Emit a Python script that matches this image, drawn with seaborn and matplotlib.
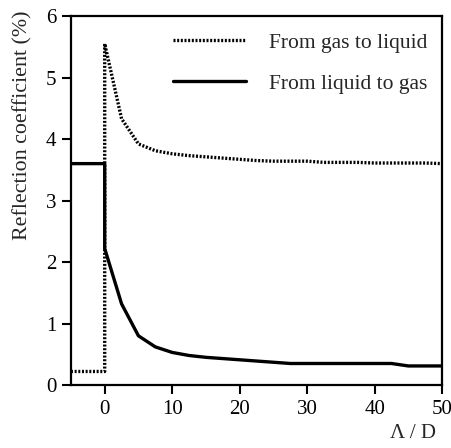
import numpy as np
import pandas as pd
import matplotlib
matplotlib.use("Agg")
import matplotlib.pyplot as plt
import seaborn as sns

sns.set_theme(style="ticks")
plt.rcParams['font.family'] = ['Liberation Serif', 'DejaVu Serif']

x_vals = [-5, 0, 0, 2.5, 5, 7.5, 10, 12.5, 15, 17.5, 20, 22.5, 25, 27.5, 30,
          32.5, 35, 37.5, 40, 42.5, 45, 47.5, 50]
gas_to_liquid = [0.22, 0.22, 5.55, 4.33, 3.92, 3.81, 3.76, 3.73, 3.71, 3.69, 3.67,
                 3.65, 3.64, 3.64, 3.64, 3.62, 3.62, 3.62, 3.61, 3.61, 3.61, 3.61, 3.60]
liquid_to_gas = [3.6, 3.6, 2.22, 1.32, 0.80, 0.62, 0.53, 0.48, 0.45, 0.43, 0.41,
                 0.39, 0.37, 0.35, 0.35, 0.35, 0.35, 0.35, 0.35, 0.35, 0.31, 0.31, 0.31]
series_names = ["From gas to liquid", "From liquid to gas"]

df = pd.concat([
    pd.DataFrame({"x": x_vals, "y": gas_to_liquid, "series": series_names[0]}),
    pd.DataFrame({"x": x_vals, "y": liquid_to_gas, "series": series_names[1]}),
])

fig = plt.figure(figsize=(4.52, 4.48), dpi=100)
ax = fig.add_axes([0.157, 0.1406, 0.821, 0.8236])

styles = {series_names[0]: dict(ls=(0, (0.6, 0.5)), lw=2.4),
          series_names[1]: dict(ls='-', lw=2.4)}
for name in series_names:
    sub = df[df.series == name]
    sns.lineplot(data=sub, x="x", y="y", sort=False, estimator=None, ax=ax,
                 color="black", linestyle=styles[name]['ls'], linewidth=styles[name]['lw'],
                 label=name)

ax.set_xlim(-5, 50)
ax.set_ylim(0, 6)
ax.set_xticks([0, 10, 20, 30, 40, 50])
ax.set_yticks([0, 1, 2, 3, 4, 5, 6])
for s in ax.spines.values():
    s.set_linewidth(1.6)
    s.set_color("black")
ax.tick_params(direction='out', length=6.5, width=1.5, labelsize=15, colors='black', pad=4)
ax.set_xlabel("Λ / D", fontsize=15)
ax.xaxis.set_label_coords(0.985, -0.107)
ax.xaxis.label.set_ha('right')
ax.set_ylabel("Reflection coefficient (%)", fontsize=15.8)
ax.yaxis.set_label_coords(-0.105, 0.705)

leg = ax.legend(frameon=False, loc='upper right', fontsize=15.5, handlelength=3.4,
                handletextpad=1.05, labelspacing=0.95, borderaxespad=0.3,
                bbox_to_anchor=(1.0, 0.995))
for line in leg.get_lines():
    line.set_linewidth(2.4)

fig.savefig("out.png", dpi=100)
